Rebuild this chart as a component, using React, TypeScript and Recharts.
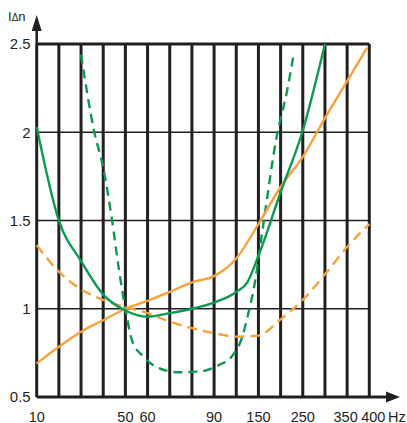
import { LineChart, Line, XAxis, YAxis, CartesianGrid, ReferenceLine } from 'recharts'

const INK = '#231f20'
const ORANGE = '#f7a23b'
const GREEN = '#0c9a52'

// one grid slot per frequency, so the axis is uneven (10 Hz steps, then 50 Hz steps)
const freqs = [10, 20, 30, 40, 50, 60, 70, 80, 90, 100, 150, 200, 250, 300, 350, 400]
const freqLabels = ['10', '', '', '', '50', '60', '', '', '90', '', '150', '', '250', '', '350', '400']
const yTicks = [0.5, 1, 1.5, 2, 2.5]

// orange solid
const orangeHz = [10, 20, 30, 40, 50, 60, 70, 80, 90, 100, 150, 200, 250, 300, 350, 395]
const orangeVal = [0.69, 0.785, 0.87, 0.935, 1.0, 1.045, 1.095, 1.15, 1.185, 1.285, 1.48, 1.69, 1.86, 2.08, 2.29, 2.48]

// orange dashed
const orangeDashHz = [10, 20, 30, 40, 50, 60, 70, 80, 90, 100, 150, 200, 250, 300, 350, 400]
const orangeDashVal = [1.36, 1.21, 1.11, 1.05, 1.01, 0.975, 0.927, 0.89, 0.862, 0.842, 0.848, 0.94, 1.05, 1.195, 1.35, 1.48]

// green solid
const greenHz = [10, 20, 30, 40, 50, 60, 70, 80, 90, 100, 125, 150, 200, 250, 300]
const greenVal = [2.03, 1.5, 1.27, 1.08, 0.99, 0.955, 0.975, 1.0, 1.035, 1.095, 1.15, 1.3, 1.66, 2.01, 2.5]

// green dashed
const greenDashHz = [30, 36, 40, 44, 47, 50, 53, 58, 64, 74, 84, 92, 98, 112, 125, 142, 160, 190, 215, 230]
const greenDashVal = [2.44, 2.0, 1.8, 1.5, 1.23, 1.0, 0.82, 0.73, 0.67, 0.64, 0.645, 0.68, 0.73, 0.83, 0.95, 1.15, 1.46, 1.96, 2.24, 2.45]

// frequency -> position on the slot axis
const slot = (hz: number) => {
  for (let i = 1; i < freqs.length; i++) {
    if (hz <= freqs[i]) return i - 1 + (hz - freqs[i - 1]) / (freqs[i] - freqs[i - 1])
  }
  return freqs.length - 1
}
const toRows = (hz: number[], vals: number[]) => hz.map((h, i) => ({ x: slot(h), y: vals[i] }))

const FreqTick = (props: any) => {
  const { x, y, payload } = props
  const label = freqLabels[payload.value]
  if (!label) return null
  const last = payload.value === freqs.length - 1
  const shift = last ? 4 : payload.value === freqs.length - 2 ? -1.5 : 0
  return (
    <g>
      <text x={x + shift} y={y} dy={22.5} textAnchor="middle" fontSize={14.5} fill={INK}>{label}</text>
      {last && <text x={388} y={y} dy={22.5} textAnchor="start" fontSize={14.5} fill={INK}>Hz</text>}
    </g>
  )
}

export default function App() {
  return (
    <div style={{ position: 'absolute', left: 0, top: 0, width: 407, height: 423, background: '#fff', fontFamily: '"Liberation Sans", Arial, sans-serif' }}>
      <LineChart width={407} height={423} margin={{ top: 44, right: 37.7, bottom: 0, left: 0 }}>
        <CartesianGrid horizontal={false} stroke={INK} strokeWidth={3} />
        <CartesianGrid vertical={false} stroke={INK} strokeWidth={1.3} />
        <XAxis
          type="number"
          dataKey="x"
          domain={[0, freqs.length - 1]}
          ticks={freqs.map((_, i) => i)}
          interval={0}
          height={26}
          axisLine={{ stroke: INK, strokeWidth: 3 }}
          tickLine={false}
          tickSize={0}
          tick={(p: any) => <FreqTick {...p} />}
        />
        <YAxis
          type="number"
          domain={[0.5, 2.5]}
          ticks={yTicks}
          interval={0}
          width={36.7}
          axisLine={false}
          tickLine={false}
          tickSize={0}
          tickMargin={6}
          tick={{ fontSize: 15, fill: INK }}
        />
        <ReferenceLine y={2.5} stroke={INK} strokeWidth={3} />
        <Line data={toRows(orangeDashHz, orangeDashVal)} dataKey="y" type="monotone" stroke={ORANGE} strokeWidth={2.4} strokeDasharray="10 6" dot={false} isAnimationActive={false} />
        <Line data={toRows(greenDashHz, greenDashVal)} dataKey="y" type="monotone" stroke={GREEN} strokeWidth={2.4} strokeDasharray="9 6" dot={false} isAnimationActive={false} />
        <Line data={toRows(orangeHz, orangeVal)} dataKey="y" type="monotone" stroke={ORANGE} strokeWidth={2.4} dot={false} isAnimationActive={false} />
        <Line data={toRows(greenHz, greenVal)} dataKey="y" type="monotone" stroke={GREEN} strokeWidth={2.4} dot={false} isAnimationActive={false} />
      </LineChart>
      {/* axis arrows and unit label */}
      <svg width={407} height={423} style={{ position: 'absolute', left: 0, top: 0, pointerEvents: 'none' }}>
        <line x1={36.7} y1={44} x2={36.7} y2={28} stroke={INK} strokeWidth={2.5} />
        <polygon points="36.7,15 31.7,31 41.7,31" fill={INK} />
        <line x1={369} y1={397} x2={390} y2={397} stroke={INK} strokeWidth={3} />
        <polygon points="400,397 386,391.5 386,402.5" fill={INK} />
        <text x={8} y={21} fontSize={13} fill={INK}>
          I<tspan fontSize={10}>Δ</tspan>n
        </text>
      </svg>
    </div>
  )
}
